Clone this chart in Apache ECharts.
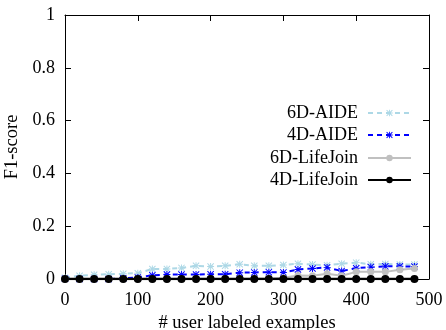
<!DOCTYPE html>
<html>
<head>
<meta charset="utf-8">
<script src="https://cdn.jsdelivr.net/npm/echarts@6/dist/echarts.min.js"></script>
<style>
html, body { margin: 0; padding: 0; background: #fff; }
#f1_curve { width: 446px; height: 330px; }
</style>
</head>
<body>
<div id="f1_curve"></div>
<script>
// x 轴: 用户标注的样本数
var examples = [0, 20, 40, 60, 80, 100, 120, 140, 160, 180, 200, 220, 240,
    260, 280, 300, 320, 340, 360, 380, 400, 420, 440, 460, 480];
var aide6d = [0.005, 0.012, 0.016, 0.018, 0.02, 0.022, 0.038, 0.038, 0.042, 0.05, 0.047, 0.05, 0.056,
    0.05, 0.05, 0.053, 0.058, 0.055, 0.052, 0.058, 0.062, 0.056, 0.057, 0.055, 0.055];
var aide4d = [0.001, 0, 0, 0, 0.003, 0.006, 0.014, 0.017, 0.017, 0.017, 0.018, 0.018, 0.024,
    0.025, 0.026, 0.025, 0.036, 0.04, 0.044, 0.03, 0.041, 0.045, 0.048, 0.048, 0.047];
var lifejoin6d = [0, 0, 0, 0, 0, 0, 0, 0, 0, 0, 0, 0, 0,
    0.001, 0.002, 0.005, 0.013, 0.012, 0.02, 0.012, 0.027, 0.027, 0.027, 0.035, 0.04];
var lifejoin4d = [0, 0, 0, 0, 0, 0, 0, 0, 0, 0, 0, 0, 0,
    0, 0, 0, 0, 0, 0, 0, 0, 0, 0, 0, 0];
var xTicks = ['0', '100', '200', '300', '400', '500'];
var yTicks = ['0', '0.2', '0.4', '0.6', '0.8', '1'];

var font = 'Liberation Serif';
// 星形标记 (gnuplot 的 *), 用细条拼出来
var star = 'path://M0,4.3 L10,4.3 L10,5.7 L0,5.7 Z M4.3,0 L5.7,0 L5.7,10 L4.3,10 Z ' +
    'M1,0 L10,9 L9,10 L0,1 Z M9,0 L10,1 L1,10 L0,9 Z';

function pairs(ys) {
    return ys.map(function (y, i) { return [examples[i], y]; });
}

function legendAt(name, top) {
    return {
        data: [name],
        right: 34,
        top: top,
        padding: 0,
        orient: 'vertical',
        align: 'right',
        itemWidth: 43,
        itemHeight: 8,
        selectedMode: false,
        textStyle: { fontFamily: font, fontSize: 18, color: '#000', padding: [0, 5, 0, 0] }
    };
}

function frameAxis(extra) {
    var a = {
        type: 'value',
        axisLine: { show: true, onZero: false, lineStyle: { color: '#000', width: 1 } },
        axisTick: { show: true, inside: true, length: 6, lineStyle: { color: '#000' } },
        axisLabel: { show: false },
        splitLine: { show: false }
    };
    for (var k in extra) a[k] = extra[k];
    return a;
}

var myChart = echarts.init(document.getElementById('f1_curve'));
myChart.setOption({
    animation: false,
    grid: { left: 65, right: 17, top: 15, bottom: 51, containLabel: false, outerBoundsMode: 'none' },
    legend: [
        legendAt('6D-AIDE', 104),
        legendAt('4D-AIDE', 126),
        legendAt('6D-LifeJoin', 149),
        legendAt('4D-LifeJoin', 171)
    ],
    xAxis: [
        frameAxis({
            min: 0, max: 500, interval: 100, position: 'bottom',
            name: '# user labeled examples', nameLocation: 'middle', nameGap: 31,
            nameTextStyle: { fontFamily: font, fontSize: 18.5, color: '#000' },
            axisLabel: {
                margin: 12, fontFamily: font, fontSize: 18, color: '#000',
                formatter: function (v) { return xTicks[Math.round(v / 100)]; }
            }
        }),
        frameAxis({ min: 0, max: 500, interval: 100, position: 'top' })
    ],
    yAxis: [
        frameAxis({
            min: 0, max: 1, interval: 0.2, position: 'left',
            name: 'F1-score', nameLocation: 'middle', nameGap: 42,
            nameTextStyle: { fontFamily: font, fontSize: 18.5, color: '#000' },
            axisLabel: {
                margin: 10, fontFamily: font, fontSize: 18, color: '#000',
                formatter: function (v) { return yTicks[Math.round(v * 5)]; }
            }
        }),
        frameAxis({ min: 0, max: 1, interval: 0.2, position: 'right' })
    ],
    series: [
        {
            name: '6D-AIDE', type: 'line', data: pairs(aide6d),
            symbol: star, symbolSize: 7, showAllSymbol: true,
            lineStyle: { color: '#add8e6', width: 2, type: [5, 4] },
            itemStyle: { color: '#add8e6' }
        },
        {
            name: '4D-AIDE', type: 'line', data: pairs(aide4d),
            symbol: star, symbolSize: 7, showAllSymbol: true,
            lineStyle: { color: '#0000ff', width: 2, type: [5, 4] },
            itemStyle: { color: '#0000ff' }
        },
        {
            name: '6D-LifeJoin', type: 'line', data: pairs(lifejoin6d),
            symbol: 'circle', symbolSize: 7, showAllSymbol: true,
            lineStyle: { color: '#c0c0c0', width: 2 },
            itemStyle: { color: '#c0c0c0' }
        },
        {
            name: '4D-LifeJoin', type: 'line', data: pairs(lifejoin4d),
            symbol: 'circle', symbolSize: 8, showAllSymbol: true,
            lineStyle: { color: '#000', width: 2.5 },
            itemStyle: { color: '#000' }
        }
    ]
});
</script>
</body>
</html>
